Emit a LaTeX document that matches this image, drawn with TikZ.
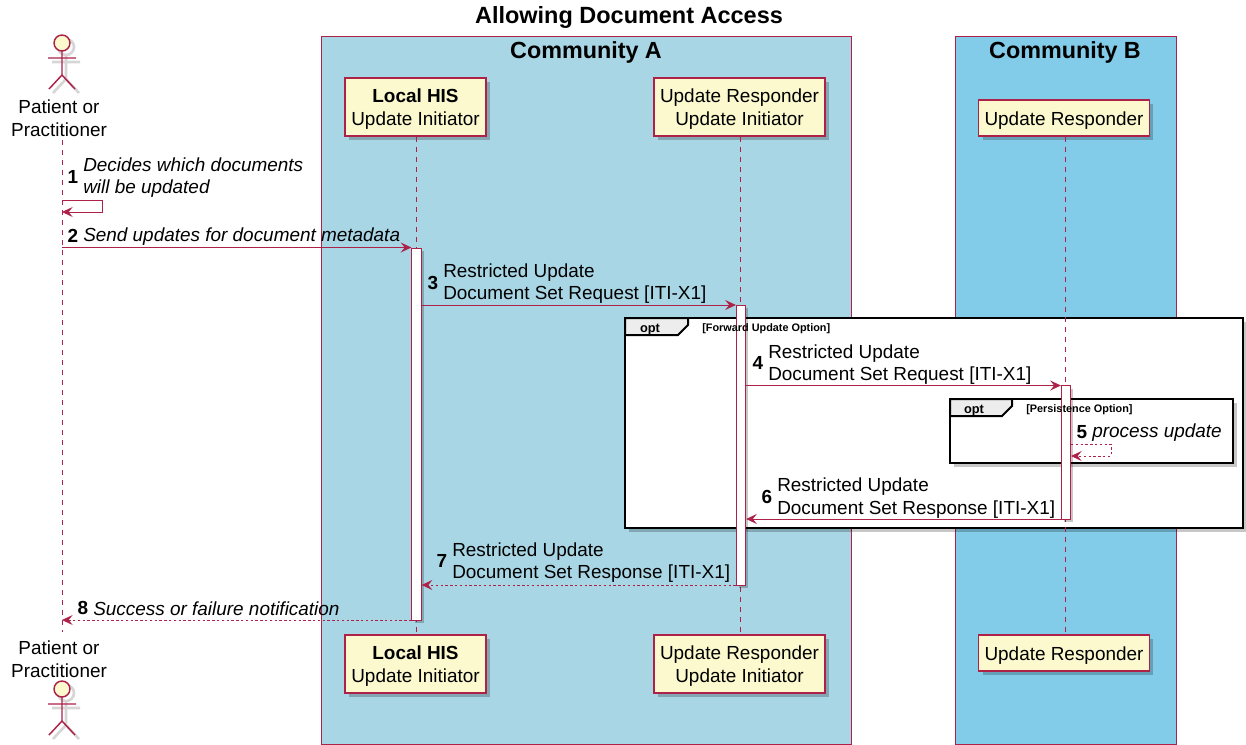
\documentclass[tikz,border=0pt]{standalone}
\usepackage{fontspec}
\setmainfont{Liberation Sans}
\usetikzlibrary{arrows.meta,shadows}
\definecolor{umlred}{HTML}{AE2249}
\definecolor{umlfill}{HTML}{FBF9CD}
\definecolor{commA}{HTML}{A9D6E5}
\definecolor{commB}{HTML}{82CCEA}
\newcommand{\partyline}[1]{\raisebox{-1.7pt}[\height][\depth]{#1}}
\tikzset{
  umlshadow/.style={drop shadow={shadow xshift=3pt,shadow yshift=-3pt,fill=black,opacity=0.22}},
  community/.style={draw=umlred,line width=0.7pt},
  commtitle/.style={font=\fontsize{17.5}{20}\selectfont\bfseries},
  party/.style={draw=umlred,fill=umlfill,line width=1.1pt,umlshadow,align=center,inner sep=0pt,
    font=\fontsize{14.2}{17}\selectfont},
  partytall/.style={party,minimum height=43.5pt},
  plain label/.style={align=center,inner sep=0pt,font=\fontsize{14.2}{17}\selectfont},
  lifeline/.style={draw=umlred,line width=0.6pt,dash pattern=on 3.75pt off 3.75pt},
  actbar/.style={draw=umlred,fill=white,line width=0.7pt,minimum width=7pt,inner sep=0pt,
    drop shadow={shadow xshift=2pt,shadow yshift=-2pt,fill=black,opacity=0.22}},
  call/.style={draw=umlred,line width=0.7pt,-{Stealth[length=8pt,width=7.5pt,inset=3pt]}},
  reply/.style={call,dash pattern=on 1.8pt off 1.8pt},
  msgtext/.style={anchor=west,align=left,inner sep=0pt,yshift=-1.1pt,font=\fontsize{14.2}{17}\selectfont},
  msgital/.style={msgtext,font=\fontsize{14.2}{17}\selectfont\itshape},
  msgnum/.style={anchor=center,inner sep=0pt,font=\fontsize{14.2}{17}\selectfont\bfseries},
  optframe/.style={draw=black,fill=white,line width=1.5pt,umlshadow},
  opttab/.style={draw=black,fill=black!7,line width=1.5pt},
  optname/.style={inner sep=0pt,font=\fontsize{9.6}{12}\selectfont\bfseries},
  optguard/.style={anchor=west,inner sep=0pt,font=\fontsize{8.15}{9}\selectfont\bfseries},
  actorman/.pic={
    \draw[black,opacity=0.16,line width=2pt,shift={(4,4)}] (0,0) circle (6pt)
      (0,8) -- (0,32) (-14,15) -- (14,15) (0,32) -- (-13,46) (0,32) -- (13,46);
    \draw[umlred,line width=1.1pt,fill=umlfill] (0,0) circle (6pt);
    \draw[umlred,line width=1.1pt] (0,8) -- (0,32) (-14,15) -- (14,15)
      (0,32) -- (-13,46) (0,32) -- (13,46);
  }
}
\begin{document}
\begin{tikzpicture}[x=0.75pt,y=-0.75pt]
  \useasboundingbox (0,0) rectangle (1246,744);

  \draw[community,fill=commA] (321,36) rectangle (851,744.5);
  \draw[community,fill=commB] (955,36) rectangle (1176,744.5);
  \node[commtitle] (titleA) at (586,52) {Community A};
  \node[commtitle] (titleB) at (1065,52) {Community B};
  \node[font=\fontsize{17.6}{20}\selectfont\bfseries] (title) at (629,17.5) {Allowing Document Access};

  \draw[optframe] (625,318) rectangle (1243,528);
  \draw[opttab] (625,318) -- (688,318) -- (688,325) -- (678,335) -- (625,335) -- cycle;
  \draw[optframe] (950,399) rectangle (1233,463);
  \draw[opttab] (950,399) -- (1012,399) -- (1012,406) -- (1002,416) -- (950,416) -- cycle;

  \pic at (62,43) {actorman};
  \pic at (62,689) {actorman};
  \node[plain label] (patient) at (59,118.5) {Patient or\\Practitioner};
  \node[plain label] (patientb) at (59,659.5) {Patient or\\Practitioner};
  \coordinate (lifepat) at (62,140);
  \coordinate (lifepatb) at (62,632);

  \node[partytall,minimum width=105.75pt] (his) at (415.5,107)
    {\partyline{\textbf{Local HIS}}\\\partyline{Update Initiator}};
  \node[partytall,minimum width=105.75pt] (hisb) at (415.5,664)
    {\partyline{\textbf{Local HIS}}\\\partyline{Update Initiator}};
  \node[partytall,minimum width=128pt] (resp) at (739.5,107)
    {\partyline{Update Responder}\\\partyline{Update Initiator}};
  \node[partytall,minimum width=128pt] (respb) at (739.5,664)
    {\partyline{Update Responder}\\\partyline{Update Initiator}};
  \node[party,minimum width=128pt,minimum height=27pt] (respB) at (1064,118) {\partyline{Update Responder}};
  \node[party,minimum width=128pt,minimum height=27pt] (respBb) at (1064,653) {\partyline{Update Responder}};

  \draw[lifeline] (his.south -| 416.5,0) -- (hisb.north -| 416.5,0);
  \draw[lifeline] (lifepat) -- (lifepatb);
  \draw[lifeline] (resp.south -| 740,0) -- (respb.north -| 740,0);
  \draw[lifeline] (respB.south -| 1065,0) -- (respBb.north -| 1065,0);

  \node[actbar,minimum height=279pt] (acthis) at (416.5,434) {};
  \node[actbar,minimum height=210pt] (actresp) at (741,445) {};
  \node[actbar,minimum height=100pt] (actB) at (1066,452.5) {};

  \node[optname] (opt1) at (650,329.5) {opt};
  \node[optguard] (guard1) at (702,328.5) {[Forward Update Option]};
  \node[optname] (opt2) at (974,410.5) {opt};
  \node[optguard] (guard2) at (1026,410) {[Persistence Option]};

  \coordinate (y2) at (0,247.5);
  \coordinate (y3) at (0,305);
  \coordinate (y4) at (0,385.5);
  \coordinate (y6) at (0,519);
  \coordinate (y7) at (0,585);
  \coordinate (y8) at (0,620);
  \coordinate (self1) at (62,200);
  \coordinate (self5) at (1071,444);

  \draw[call] (self1) -- ++(40,0) -- ++(0,12) -- ++(-40,0);
  \draw[call] (lifepat |- y2) -- (acthis.west |- y2);
  \draw[call] (acthis.east |- y3) -- (actresp.west |- y3);
  \draw[call] (actresp.east |- y4) -- (actB.west |- y4);
  \draw[reply] (self5) -- ++(40,0) -- ++(0,12) -- ++(-40,0);
  \draw[call] (actB.west |- y6) -- (actresp.east |- y6);
  \draw[reply] (actresp.west |- y7) -- (acthis.east |- y7);
  \draw[reply] (acthis.west |- y8) -- (lifepat |- y8);

  \node[msgnum] (n1) at (73,177) {1};
  \node[msgital] (m1) at (83,176) {Decides which documents\\will be updated};
  \node[msgnum] (n2) at (73,235.5) {2};
  \node[msgital] (m2) at (83,235) {Send updates for document metadata};
  \node[msgnum] (n3) at (433,282.5) {3};
  \node[msgtext] (m3) at (443,282) {Restricted Update\\Document Set Request [ITI-X1]};
  \node[msgnum] (n4) at (758,363) {4};
  \node[msgtext] (m4) at (768,363) {Restricted Update\\Document Set Request [ITI-X1]};
  \node[msgnum] (n5) at (1082,432) {5};
  \node[msgital] (m5) at (1092,431.5) {process update};
  \node[msgnum] (n6) at (767,496.5) {6};
  \node[msgtext] (m6) at (777,496.5) {Restricted Update\\Document Set Response [ITI-X1]};
  \node[msgnum] (n7) at (442,561) {7};
  \node[msgtext] (m7) at (452,561) {Restricted Update\\Document Set Response [ITI-X1]};
  \node[msgnum] (n8) at (83,608) {8};
  \node[msgital] (m8) at (93,607.5) {Success or failure notification};
\end{tikzpicture}
\end{document}
